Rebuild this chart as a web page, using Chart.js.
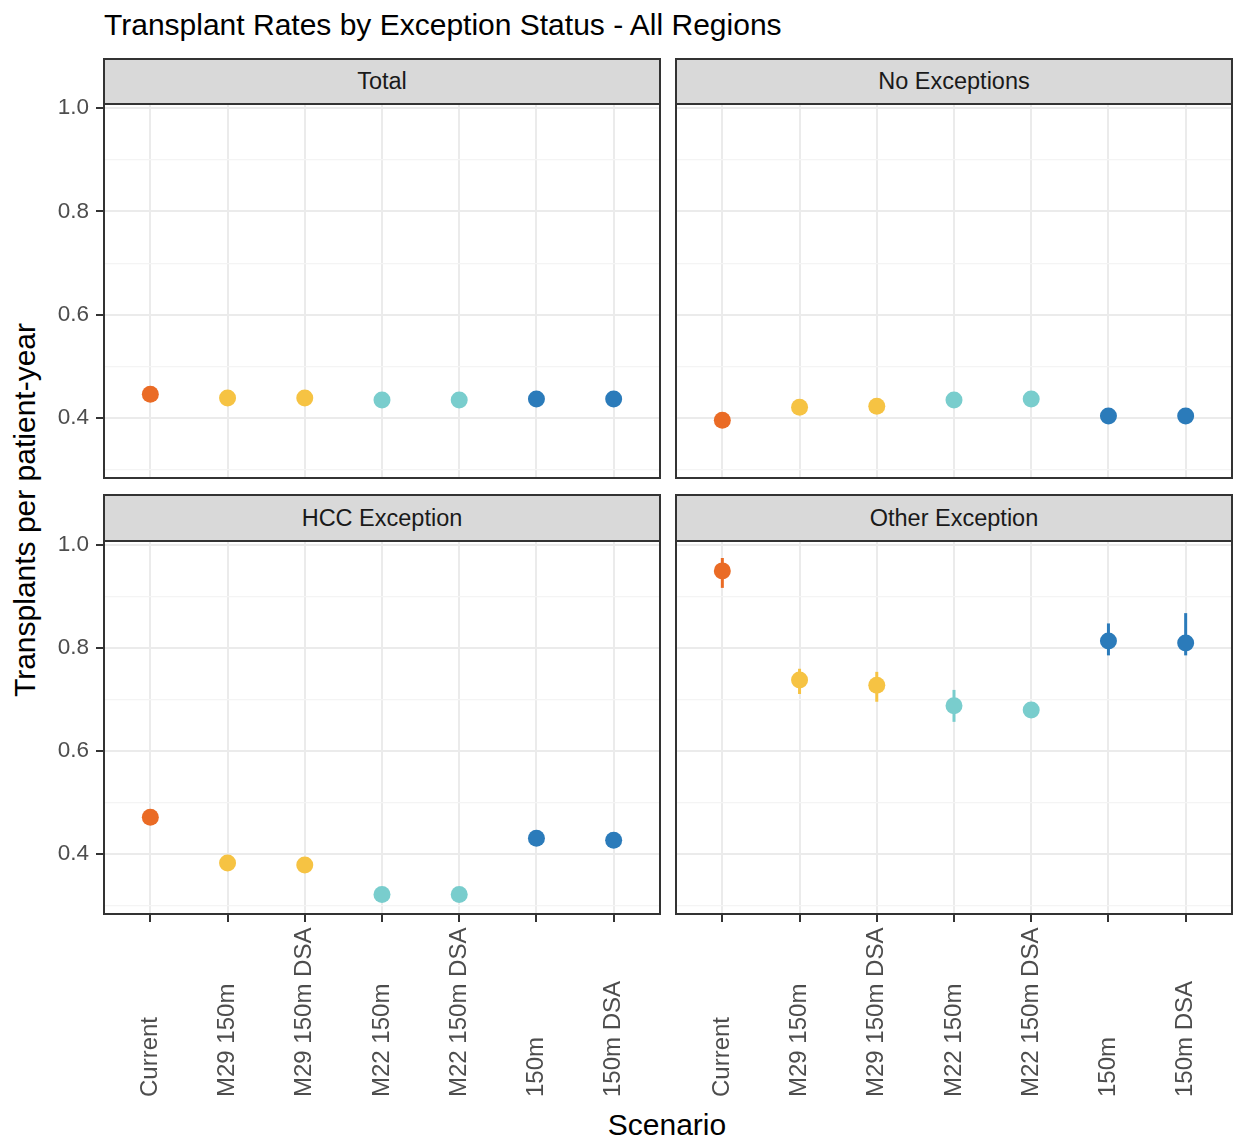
<!DOCTYPE html>
<html>
<head>
  <title>Transplant Rates by Exception Status</title>
  <script src="https://cdn.jsdelivr.net/npm/chart.js"></script>
  <style>
    body { margin: 0; background: #fff; font-family: "Liberation Sans", Arial, sans-serif; }
    #page { position: relative; width: 1236px; height: 1142px; overflow: hidden; }
    .box { position: absolute; }
    .strip { position: absolute; background: #d9d9d9; border: 2px solid #333; box-sizing: border-box;
             display: flex; align-items: center; justify-content: center; font-size: 23.5px; color: #1a1a1a; }
    .txt { position: absolute; white-space: nowrap; color: #000; }
  </style>
</head>
<body>
<div id="page">
  <div class="txt" style="left:104px; top:10px; font-size:30px; line-height:30px;">Transplant Rates by Exception Status - All Regions</div>
  <div class="txt" style="left:25px; top:510px; font-size:30px; transform: translate(-50%,-50%) rotate(-90deg);">Transplants per patient-year</div>
  <div class="txt" style="left:667px; top:1125px; font-size:30px; transform: translate(-50%,-50%);">Scenario</div>

  <div class="strip" style="left:103px; top:58px; width:558px; height:47px;">Total</div>
  <div class="strip" style="left:675px; top:58px; width:558px; height:47px;">No Exceptions</div>
  <div class="strip" style="left:103px; top:494px; width:558px; height:48px;">HCC Exception</div>
  <div class="strip" style="left:675px; top:494px; width:558px; height:48px;">Other Exception</div>

  <div class="box" style="left:0; top:90px; width:662px; height:390px;"><canvas id="cTotal"></canvas></div>
  <div class="box" style="left:674px; top:90px; width:560px; height:390px;"><canvas id="cNoExc"></canvas></div>
  <div class="box" style="left:0; top:527px; width:662px; height:573px;"><canvas id="cHcc"></canvas></div>
  <div class="box" style="left:674px; top:527px; width:560px; height:573px;"><canvas id="cOther"></canvas></div>
</div>

<script>
const scenarios = ["Current", "M29 150m", "M29 150m DSA", "M22 150m", "M22 150m DSA", "150m", "150m DSA"];
const scenarioColors = ["#ea6b25", "#f6c343", "#f6c343", "#79cdcd", "#79cdcd", "#2b7bba", "#2b7bba"];

const totalRate = [0.446, 0.439, 0.439, 0.435, 0.435, 0.437, 0.437];
const totalLow  = [0.440, 0.434, 0.434, 0.430, 0.430, 0.431, 0.431];
const totalHigh = [0.452, 0.444, 0.444, 0.440, 0.440, 0.443, 0.443];

const noExcRate = [0.396, 0.421, 0.423, 0.435, 0.437, 0.404, 0.404];
const noExcLow  = [0.390, 0.416, 0.418, 0.430, 0.432, 0.398, 0.398];
const noExcHigh = [0.402, 0.426, 0.428, 0.440, 0.442, 0.410, 0.410];

const hccRate = [0.472, 0.383, 0.379, 0.322, 0.322, 0.431, 0.427];
const hccLow  = [0.465, 0.377, 0.373, 0.316, 0.316, 0.424, 0.420];
const hccHigh = [0.479, 0.389, 0.385, 0.328, 0.328, 0.438, 0.434];

const otherRate = [0.950, 0.738, 0.728, 0.688, 0.680, 0.814, 0.810];
const otherLow  = [0.917, 0.711, 0.696, 0.657, 0.665, 0.786, 0.786];
const otherHigh = [0.975, 0.760, 0.754, 0.719, 0.695, 0.848, 0.868];

const FONT = '"Liberation Sans", Arial, sans-serif';

const isMajor = v => Math.round(v * 10) % 2 === 0;

// error bars + panel border + rotated x labels
const panelPlugin = {
  id: 'panel',
  beforeDatasetsDraw(chart) {
    const { ctx, scales: { x, y } } = chart;
    const o = chart.options.plugins.panel;
    ctx.save();
    ctx.lineWidth = 3;
    o.low.forEach((lo, i) => {
      ctx.strokeStyle = scenarioColors[i];
      ctx.beginPath();
      ctx.moveTo(x.getPixelForValue(i), y.getPixelForValue(lo));
      ctx.lineTo(x.getPixelForValue(i), y.getPixelForValue(o.high[i]));
      ctx.stroke();
    });
    ctx.restore();
  },
  afterDraw(chart) {
    const { ctx, chartArea: a, scales: { x } } = chart;
    const o = chart.options.plugins.panel;
    ctx.save();
    ctx.strokeStyle = '#333';
    ctx.lineWidth = 2;
    ctx.strokeRect(a.left, a.top, a.right - a.left, a.bottom - a.top);
    if (o.xLabels) {
      ctx.fillStyle = '#4d4d4d';
      ctx.font = '24px ' + FONT;
      ctx.textAlign = 'left';
      ctx.textBaseline = 'middle';
      scenarios.forEach((s, i) => {
        ctx.save();
        ctx.translate(x.getPixelForValue(i), a.bottom + 183);
        ctx.rotate(-Math.PI / 2);
        ctx.fillText(s, 0, 0);
        ctx.restore();
      });
    }
    ctx.restore();
  }
};

const noPad = s => { s.paddingTop = 0; s.paddingBottom = 0; s.paddingLeft = 0; s.paddingRight = 0; };

function makePanel(id, rate, low, high, showY, showX) {
  new Chart(document.getElementById(id), {
    type: 'scatter',
    data: {
      datasets: [{
        data: rate.map((v, i) => ({ x: i, y: v })),
        backgroundColor: scenarioColors,
        borderWidth: 0,
        pointRadius: 8.5,
        pointHoverRadius: 8.5
      }]
    },
    options: {
      responsive: true,
      maintainAspectRatio: false,
      animation: false,
      events: [],
      layout: { autoPadding: false, padding: { top: 14, right: 2, left: showY ? 0 : 2, bottom: 0 } },
      plugins: {
        legend: { display: false },
        tooltip: { enabled: false },
        panel: { low, high, xLabels: showX }
      },
      scales: {
        x: {
          type: 'linear',
          min: -0.6,
          max: 6.6,
          border: { display: false },
          ticks: { stepSize: 1, includeBounds: false, display: false },
          grid: {
            color: '#ebebeb',
            lineWidth: 2,
            drawTicks: showX,
            tickLength: 8,
            tickColor: '#333',
            tickWidth: 2
          },
          afterFit: s => { s.height = showX ? 186 : 2; noPad(s); }
        },
        y: {
          min: 0.284,
          max: 1.008,
          border: { display: false },
          ticks: {
            stepSize: 0.1,
            includeBounds: false,
            display: showY,
            padding: 7,
            color: '#4d4d4d',
            font: { family: FONT, size: 22.5 },
            callback: v => isMajor(v) ? v.toFixed(1) : ''
          },
          grid: {
            color: c => isMajor(c.tick.value) ? '#ebebeb' : '#f4f4f4',
            lineWidth: c => isMajor(c.tick.value) ? 2 : 1.2,
            drawTicks: showY,
            tickLength: 8,
            tickColor: c => isMajor(c.tick.value) ? '#333' : 'rgba(0,0,0,0)',
            tickWidth: 2
          },
          afterFit: s => { s.width = showY ? 104 : 0; noPad(s); }
        }
      }
    },
    plugins: [panelPlugin]
  });
}

makePanel('cTotal', totalRate, totalLow, totalHigh, true, false);
makePanel('cNoExc', noExcRate, noExcLow, noExcHigh, false, false);
makePanel('cHcc', hccRate, hccLow, hccHigh, true, true);
makePanel('cOther', otherRate, otherLow, otherHigh, false, true);
</script>
</body>
</html>
